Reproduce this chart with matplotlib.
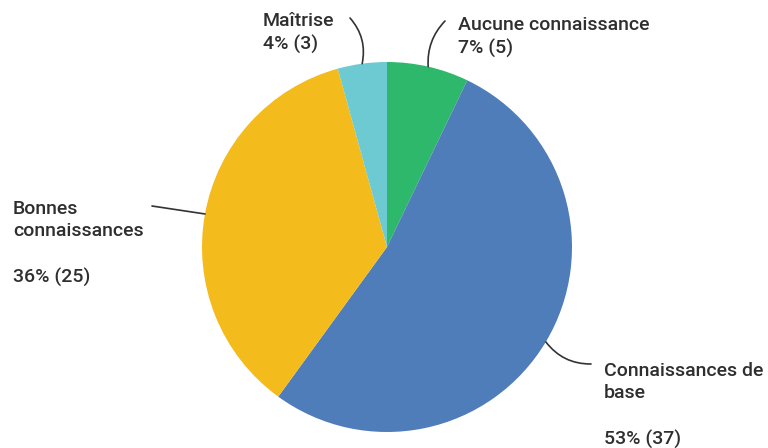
import numpy as np
import matplotlib
matplotlib.use('Agg')
import matplotlib.pyplot as plt

plt.rcParams['font.family'] = ['Roboto', 'DejaVu Sans']

labels = ['Aucune connaissance', 'Connaissances de\nbase',
          'Bonnes\nconnaissances', 'Maîtrise']
counts = [5, 37, 25, 3]
colors = ['#2eb86c', '#4f7dba', '#f4bb1c', '#6dcad2']

# label boxes (top-left in pixels), gap line before value, leader end point
text_pos = [(458, 16), (604, 362), (13, 200), (263, 12)]
blank_line = [False, True, True, False]
line_end = [(445, 21), (591, 364), (152, 206), (350, 18)]
line_rad = [0.22, -0.25, 0.0, -0.25]

W, H = 768, 448
CX, CY, R = 387, 247, 185


def main():
    fig = plt.figure(figsize=(W / 100, H / 100), dpi=100)
    ax = fig.add_axes([0, 0, 1, 1])
    total = sum(counts)

    wedges, _ = ax.pie(counts, colors=colors, startangle=90, counterclock=False,
                       center=(CX, H - CY), radius=R, frame=True,
                       wedgeprops=dict(linewidth=0))

    for i, w in enumerate(wedges):
        mid = np.deg2rad((w.theta1 + w.theta2) / 2)
        ax_x = CX + R * np.cos(mid)
        ax_y = (H - CY) + R * np.sin(mid)
        pct = int(round(counts[i] / total * 100))
        sep = '\n\n' if blank_line[i] else '\n'
        txt = labels[i] + sep + str(pct) + '% (' + str(counts[i]) + ')'
        tx, ty = text_pos[i]
        ax.text(tx, H - ty, txt, ha='left', va='top', fontsize=14,
                fontweight='medium', color='#2f2f2f', linespacing=1.32)
        ex, ey = line_end[i]
        ax.annotate('', xy=(ax_x, ax_y), xytext=(ex, H - ey),
                    arrowprops=dict(arrowstyle='-', color='#333333', lw=1.2,
                                    shrinkA=0, shrinkB=0,
                                    connectionstyle='arc3,rad=' + str(line_rad[i])))

    ax.set_xlim(0, W)
    ax.set_ylim(0, H)
    ax.set_aspect('equal')
    ax.axis('off')
    fig.savefig('out.png', dpi=100, facecolor='white')


if __name__ == '__main__':
    main()
